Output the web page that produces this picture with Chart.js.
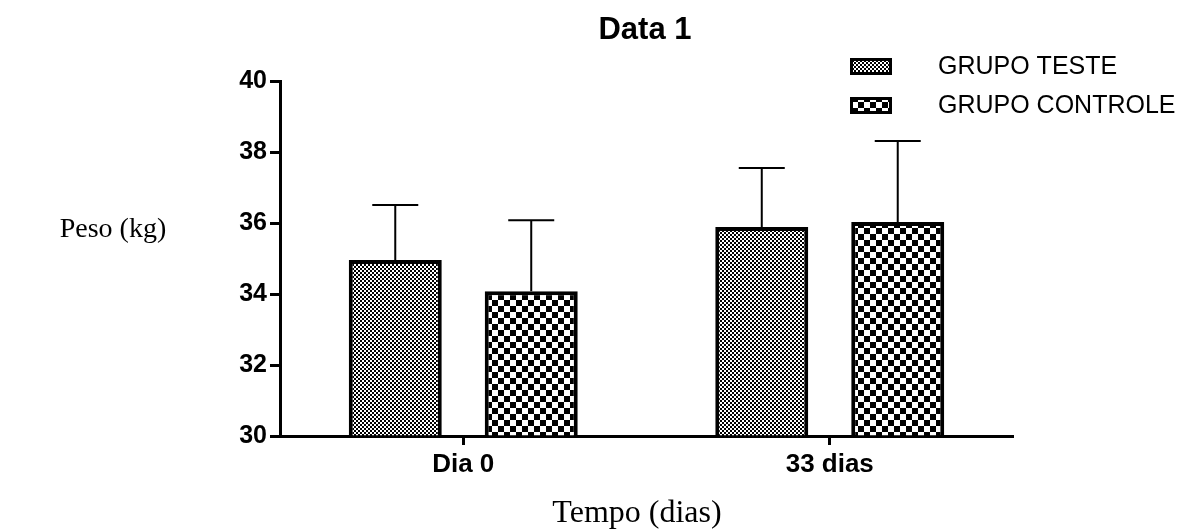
<!DOCTYPE html>
<html>
<head>
<meta charset="utf-8">
<script src="https://cdn.jsdelivr.net/npm/chart.js"></script>
<style>
  body { margin: 0; background: #fff; }
  canvas { display: block; }
</style>
</head>
<body>
<canvas id="grafico" width="1192" height="529"></canvas>
<script>
// données
const categories = ["Dia 0", "33 dias"];
const grupoTeste = [34.96, 35.89];
const grupoControle = [34.08, 36.03];
const erroTeste = [1.55, 1.66];
const erroControle = [2.0, 2.28];
const yTicks = [30, 32, 34, 36, 38, 40];

// motifs en damier (petit / grand)
function damier(cell) {
    const tile = document.createElement('canvas');
    tile.width = cell * 2;
    tile.height = cell * 2;
    const c = tile.getContext('2d');
    c.fillStyle = '#fff';
    c.fillRect(0, 0, cell * 2, cell * 2);
    c.fillStyle = '#000';
    c.fillRect(0, 0, cell, cell);
    c.fillRect(cell, cell, cell, cell);
    return document.createElement('canvas').getContext('2d').createPattern(tile, 'repeat');
}
const motifTeste = damier(2);
const motifControle = damier(6);

const erros = [erroTeste, erroControle];

// barres d'erreur (vers le haut seulement)
const barresErreur = {
    id: 'barresErreur',
    afterDatasetsDraw(chart) {
        const ctx = chart.ctx;
        const y = chart.scales.y;
        ctx.save();
        ctx.strokeStyle = '#000';
        ctx.lineWidth = 2;
        chart.data.datasets.forEach((ds, i) => {
            chart.getDatasetMeta(i).data.forEach((bar, j) => {
                const top = y.getPixelForValue(ds.data[j] + erros[i][j]);
                ctx.beginPath();
                ctx.moveTo(bar.x, bar.y);
                ctx.lineTo(bar.x, top);
                ctx.moveTo(bar.x - 23, top);
                ctx.lineTo(bar.x + 23, top);
                ctx.stroke();
            });
        });
        ctx.restore();
    }
};

// titre, titres d'axes et légende dessinés à la main
const textes = {
    id: 'textes',
    afterDraw(chart) {
        const ctx = chart.ctx;
        ctx.save();
        ctx.fillStyle = '#000';
        ctx.textBaseline = 'middle';
        ctx.textAlign = 'center';
        ctx.font = 'bold 31px "Liberation Sans", Arial, sans-serif';
        ctx.fillText('Data 1', 645, 30);
        ctx.font = '32px "Liberation Serif", "Times New Roman", serif';
        ctx.fillText('Tempo (dias)', 637, 514);
        ctx.font = '28px "Liberation Serif", "Times New Roman", serif';
        ctx.fillText('Peso (kg)', 113, 230);

        // légende
        ctx.textAlign = 'left';
        ctx.font = '25px "Liberation Sans", Arial, sans-serif';
        const items = [
            { label: chart.data.datasets[0].label, motif: motifTeste, y: 58 },
            { label: chart.data.datasets[1].label, motif: motifControle, y: 97 }
        ];
        items.forEach(it => {
            ctx.fillStyle = '#000';
            ctx.fillRect(850, it.y, 42, 17);
            ctx.fillStyle = it.motif;
            ctx.fillRect(853, it.y + 3, 36, 11);
            ctx.fillStyle = '#000';
            ctx.fillText(it.label, 938, it.y + 9);
        });
        ctx.restore();
    }
};

new Chart(document.getElementById("grafico"), {
    type: 'bar',
    data: {
        labels: categories,
        datasets: [{
                label: "GRUPO TESTE",
                data: grupoTeste,
                backgroundColor: motifTeste,
                borderColor: '#000',
                borderWidth: 4,
                base: 30
            },
            {
                label: "GRUPO CONTROLE",
                data: grupoControle,
                backgroundColor: motifControle,
                borderColor: '#000',
                borderWidth: 4,
                base: 30
            }
        ]
    },
    options: {
        responsive: false,
        animation: false,
        events: [],
        categoryPercentage: 0.742,
        barPercentage: 0.684,
        layout: {
            padding: { left: 200, right: 179, top: 81, bottom: 0 }
        },
        plugins: {
            legend: { display: false },
            title: { display: false },
            tooltip: { enabled: false }
        },
        scales: {
            x: {
                offset: true,
                grid: {
                    offset: false,
                    drawOnChartArea: false,
                    drawTicks: true,
                    tickLength: 9,
                    tickWidth: 3,
                    color: '#000'
                },
                border: { display: true, color: '#000', width: 3 },
                ticks: {
                    color: '#000',
                    padding: 4,
                    font: { family: '"Liberation Sans", Arial, sans-serif', size: 26, weight: 'bold' }
                },
                afterFit: s => { s.height = 93; }
            },
            y: {
                min: 30,
                max: 40,
                afterBuildTicks: s => { s.ticks = yTicks.map(v => ({ value: v })); },
                grid: {
                    drawOnChartArea: false,
                    drawTicks: true,
                    tickLength: 10,
                    tickWidth: 3,
                    color: '#000'
                },
                border: { display: true, color: '#000', width: 3 },
                ticks: {
                    color: '#000',
                    padding: 3,
                    font: { family: '"Liberation Sans", Arial, sans-serif', size: 25, weight: 'bold' }
                },
                afterFit: s => { s.width = 80; }
            }
        }
    },
    plugins: [barresErreur, textes]
});
</script>
</body>
</html>
